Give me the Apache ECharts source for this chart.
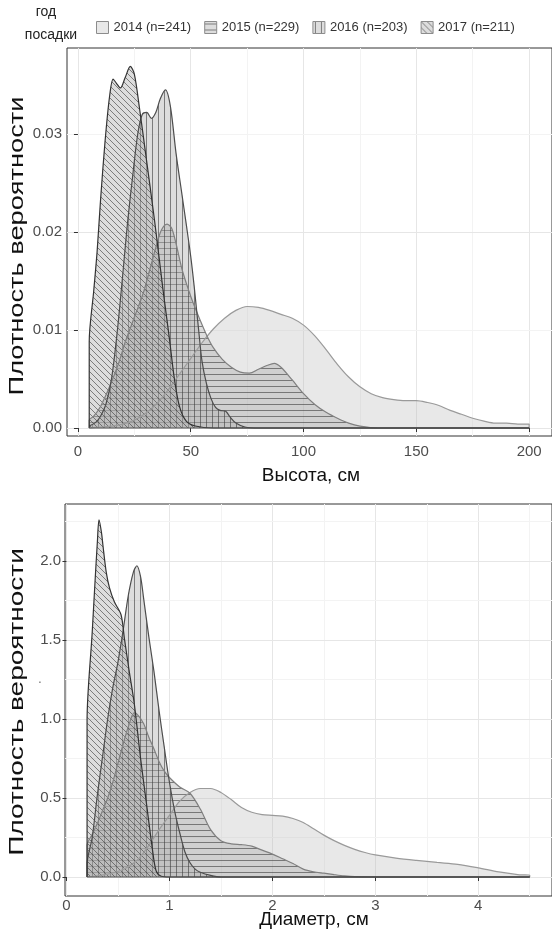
<!DOCTYPE html>
<html>
<head>
<meta charset="utf-8">
<title>Плотность вероятности</title>
<script src="https://cdn.jsdelivr.net/npm/echarts@6/dist/echarts.min.js"></script>
<style>
  html, body { margin: 0; padding: 0; background: #fff; }
  #chart { width: 552px; height: 940px; }
</style>
</head>
<body>
<div id="chart"></div>
<script>
// год посадки
var years = ['2014 (n=241)', '2015 (n=229)', '2016 (n=203)', '2017 (n=211)'];

// Высота, см — плотность по годам
var h2014x = [5, 10, 15, 20, 25, 30, 35, 40, 45, 50, 55, 60, 65, 70, 75, 80, 85, 90, 95, 100, 105, 110, 115, 120, 125, 130, 135, 140, 145, 150, 155, 160, 165, 170, 175, 180, 185, 190, 195, 200, 200];
var h2014y = [0, 0.0001, 0.0002, 0.0004, 0.0008, 0.0015, 0.0025, 0.0039, 0.0055, 0.0071, 0.0087, 0.0101, 0.0112, 0.0120, 0.0124, 0.0123, 0.0120, 0.0116, 0.0112, 0.0105, 0.0094, 0.0080, 0.0065, 0.0052, 0.0042, 0.0035, 0.0031, 0.0029, 0.0028, 0.0028, 0.0026, 0.0023, 0.0018, 0.0014, 0.0010, 0.0007, 0.0005, 0.0005, 0.0004, 0.0004, 0];
var h2015x = [5, 5, 7, 10, 14, 18, 21, 25, 29, 32, 35, 37, 39.5, 41.5, 43.5, 46, 48, 51, 54, 57, 60, 64, 68, 72, 76, 80, 84, 87, 90, 95, 100, 105, 110, 115, 120, 125, 133, 150, 200];
var h2015y = [0, 0.0008, 0.0012, 0.0022, 0.0042, 0.0066, 0.0088, 0.0113, 0.0138, 0.0163, 0.0188, 0.0202, 0.0208, 0.0204, 0.0188, 0.0163, 0.0148, 0.0128, 0.0111, 0.0095, 0.0082, 0.0070, 0.0062, 0.0057, 0.0056, 0.0060, 0.0064, 0.0066, 0.0062, 0.0049, 0.0035, 0.0024, 0.0016, 0.0010, 0.0005, 0.0002, 0, 0, 0];
var h2016x = [5, 8, 10, 12.5, 15, 17.5, 20, 22, 24.5, 26.5, 28.5, 30.5, 32.5, 34.5, 36.5, 38.8, 41, 43.5, 46, 48, 50, 51.5, 53.5, 55, 57, 59, 61, 63, 65.5, 67.5, 70, 74, 80, 90, 200];
var h2016y = [0.0002, 0.0006, 0.0012, 0.0025, 0.0052, 0.0100, 0.0160, 0.0210, 0.0262, 0.0300, 0.0320, 0.0322, 0.0316, 0.0322, 0.0336, 0.0345, 0.0328, 0.0280, 0.0240, 0.0208, 0.0175, 0.0145, 0.0100, 0.0068, 0.0045, 0.0030, 0.0021, 0.0018, 0.0017, 0.0011, 0.0005, 0.0001, 0, 0, 0];
var h2017x = [5, 5, 7, 8.5, 10, 12, 14, 15.6, 17, 18.8, 21, 23.2, 25, 27.3, 30, 34, 37.6, 40.5, 42.7, 45, 48, 52, 60, 200];
var h2017y = [0, 0.0088, 0.0140, 0.0180, 0.0232, 0.0292, 0.0338, 0.0356, 0.0352, 0.0347, 0.0358, 0.0369, 0.0361, 0.0326, 0.0280, 0.0211, 0.0143, 0.0092, 0.0051, 0.0022, 0.0007, 0.0002, 0, 0];

// Диаметр, см — плотность по годам
var d2014x = [0.2, 0.3, 0.4, 0.5, 0.6, 0.7, 0.8, 0.9, 1.0, 1.1, 1.2, 1.3, 1.4, 1.5, 1.6, 1.7, 1.8, 1.9, 2.0, 2.1, 2.2, 2.3, 2.4, 2.5, 2.6, 2.7, 2.8, 2.9, 3.0, 3.2, 3.4, 3.6, 3.8, 4.0, 4.2, 4.4, 4.5, 4.5];
var d2014y = [0.002, 0.008, 0.018, 0.035, 0.065, 0.115, 0.2, 0.3, 0.39, 0.48, 0.535, 0.56, 0.56, 0.535, 0.49, 0.44, 0.41, 0.395, 0.39, 0.385, 0.37, 0.345, 0.305, 0.265, 0.23, 0.2, 0.175, 0.155, 0.14, 0.12, 0.105, 0.092, 0.08, 0.058, 0.032, 0.014, 0.011, 0];
var d2015x = [0.2, 0.2, 0.25, 0.3, 0.35, 0.4, 0.45, 0.5, 0.55, 0.6, 0.66, 0.7, 0.75, 0.8, 0.85, 0.9, 0.95, 1.0, 1.1, 1.2, 1.3, 1.4, 1.5, 1.6, 1.7, 1.8, 1.9, 2.0, 2.1, 2.2, 2.3, 2.4, 2.5, 2.6, 2.7, 2.8, 3.0, 4.5];
var d2015y = [0, 0.2, 0.27, 0.34, 0.42, 0.5, 0.6, 0.72, 0.84, 0.95, 1.04, 1.02, 0.97, 0.885, 0.81, 0.73, 0.67, 0.63, 0.57, 0.53, 0.43, 0.30, 0.23, 0.21, 0.205, 0.195, 0.17, 0.145, 0.115, 0.085, 0.05, 0.033, 0.024, 0.015, 0.007, 0.002, 0, 0];
var d2016x = [0.2, 0.2, 0.25, 0.3, 0.35, 0.4, 0.45, 0.5, 0.55, 0.6, 0.65, 0.684, 0.72, 0.75, 0.8, 0.85, 0.9, 0.95, 1.0, 1.05, 1.1, 1.15, 1.2, 1.25, 1.3, 1.4, 1.5, 4.5];
var d2016y = [0, 0.08, 0.25, 0.52, 0.76, 1.0, 1.2, 1.36, 1.56, 1.78, 1.93, 1.97, 1.9, 1.76, 1.52, 1.3, 1.05, 0.82, 0.6, 0.42, 0.28, 0.16, 0.09, 0.05, 0.03, 0.01, 0, 0];
var d2017x = [0.2, 0.2, 0.25, 0.28, 0.3, 0.316, 0.34, 0.354, 0.386, 0.418, 0.466, 0.53, 0.5625, 0.61, 0.66, 0.72, 0.78, 0.83, 0.87, 0.92, 1.0, 4.5];
var d2017y = [0, 0.99, 1.55, 1.9, 2.12, 2.26, 2.18, 2.1, 1.93, 1.83, 1.74, 1.66, 1.51, 1.30, 1.09, 0.75, 0.45, 0.2, 0.04, 0.005, 0, 0];

// деления осей
var hTicksX = [0, 50, 100, 150, 200];
var hTicksY = [0, 0.01, 0.02, 0.03];
var hMinorX = [25, 75, 125, 175];
var hMinorY = [0.005, 0.015, 0.025, 0.035];
var dTicksX = [0, 1, 2, 3, 4];
var dTicksY = [0, 0.5, 1, 1.5, 2];
var dMinorX = [0.5, 1.5, 2.5, 3.5, 4.5];
var dMinorY = [0.25, 0.75, 1.25, 1.75, 2.25];

var FONT = '"Liberation Sans", Arial, sans-serif';

function pairs(xs, ys) {
  return xs.map(function (x, i) { return [x, ys[i]]; });
}

// штриховка
function hatch(kind) {
  var s = 6;
  var c = document.createElement('canvas');
  c.width = s; c.height = s;
  var g = c.getContext('2d');
  g.fillStyle = 'rgba(175,175,175,0.42)';
  g.fillRect(0, 0, s, s);
  g.strokeStyle = 'rgba(60,60,60,0.6)';
  g.lineWidth = 1;
  g.beginPath();
  if (kind === 'h') { g.moveTo(0, 2.5); g.lineTo(s, 2.5); }
  if (kind === 'v') { g.moveTo(2.5, 0); g.lineTo(2.5, s); }
  if (kind === 'd') {
    for (var k = -1; k <= 1; k++) { g.moveTo(k * s, 0); g.lineTo(k * s + s, s); }
  }
  g.stroke();
  return { image: c, repeat: 'repeat' };
}

var fills = ['rgba(185,185,185,0.32)', hatch('h'), hatch('v'), hatch('d')];
var strokes = ['#9a9a9a', '#808080', '#4d4d4d', '#333333'];

var myChart = echarts.init(document.getElementById('chart'));

function densSeries(i, xs, ys, gi) {
  return {
    name: years[i],
    type: 'line',
    xAxisIndex: gi,
    yAxisIndex: gi,
    data: pairs(xs, ys),
    smooth: 0.3,
    showSymbol: false,
    symbol: 'none',
    z: 2,
    lineStyle: { color: strokes[i], width: 1.2 },
    itemStyle: { color: strokes[i] },
    areaStyle: { color: fills[i], opacity: 1, origin: 0 }
  };
}

// сетка под графиками
function gridLines(gi, majX, minX, majY, minY) {
  var d = [];
  majX.forEach(function (v) { d.push({ xAxis: v, lineStyle: { color: '#e6e6e6' } }); });
  minX.forEach(function (v) { d.push({ xAxis: v, lineStyle: { color: '#f3f3f3' } }); });
  majY.forEach(function (v) { d.push({ yAxis: v, lineStyle: { color: '#e6e6e6' } }); });
  minY.forEach(function (v) { d.push({ yAxis: v, lineStyle: { color: '#f3f3f3' } }); });
  return {
    type: 'line', xAxisIndex: gi, yAxisIndex: gi,
    data: [[majX[0], majY[0]]], symbol: 'none', lineStyle: { opacity: 0 },
    z: 0, silent: true,
    markLine: {
      silent: true, z: 0, symbol: ['none', 'none'], label: { show: false },
      lineStyle: { type: 'solid', width: 1 }, animation: false, data: d
    }
  };
}

// нулевая линия контуров
function baseLine(gi, x0, x1) {
  return {
    type: 'line', xAxisIndex: gi, yAxisIndex: gi, data: [[x0, 0], [x1, 0]],
    symbol: 'none', z: 3, silent: true, lineStyle: { color: '#555', width: 1.2 }
  };
}

function axis(gi, min, max, ticks, dec, margin) {
  return {
    type: 'value', gridIndex: gi, min: min, max: max,
    splitLine: { show: false },
    axisLine: { show: false },
    axisTick: { show: true, length: 4, customValues: ticks, lineStyle: { color: '#333' } },
    axisLabel: {
      customValues: ticks, margin: margin, color: '#4d4d4d', fontSize: 15, fontFamily: FONT,
      formatter: function (v) { return dec ? v.toFixed(dec) : String(v); }
    }
  };
}

function title(text, x, y, size, rot, sx) {
  return {
    type: 'text', x: x, y: y, rotation: rot || 0, scaleX: sx || 1,
    style: { text: text, font: size + 'px ' + FONT, fill: '#111', textAlign: 'center', textVerticalAlign: 'middle' }
  };
}

var option = {
  animation: false,
  backgroundColor: '#fff',
  textStyle: { fontFamily: FONT },
  legend: {
    left: 91, top: 16, itemWidth: 12, itemHeight: 12, itemGap: 13,
    textStyle: { fontSize: 13, color: '#333', fontFamily: FONT },
    data: years.map(function (n, i) {
      return { name: n, icon: 'rect', itemStyle: { color: fills[i], borderColor: '#8c8c8c', borderWidth: 1 } };
    })
  },
  grid: [
    { left: 67, top: 48, width: 488, height: 388, show: true, borderColor: '#333', borderWidth: 1, containLabel: false },
    { left: 65, top: 504, width: 492, height: 392, show: true, borderColor: '#333', borderWidth: 1, containLabel: false }
  ],
  xAxis: [
    axis(0, -4.85, 210.13, hTicksX, 0, 8),
    axis(1, -0.0144, 4.7164, dTicksX, 0, 2)
  ],
  yAxis: [
    axis(0, -0.000816, 0.038776, hTicksY, 2, 5),
    axis(1, -0.1203, 2.3608, dTicksY, 1, 4)
  ],
  graphic: [
    { type: 'text', x: 46, y: 12, style: { text: 'год', font: '14px ' + FONT, fill: '#222', textAlign: 'center', textVerticalAlign: 'middle' } },
    { type: 'text', x: 51, y: 35, style: { text: 'посадки', font: '14px ' + FONT, fill: '#222', textAlign: 'center', textVerticalAlign: 'middle' } },
    title('Высота, см', 311, 476, 19),
    title('Диаметр, см', 314, 920, 19),
    title('Плотность вероятности', 17, 246, 20, Math.PI / 2, 1.36),
    title('Плотность вероятности', 17, 702, 20, Math.PI / 2, 1.4),
    { type: 'text', x: 40, y: 680, style: { text: '.', font: '12px ' + FONT, fill: '#666', textAlign: 'center', textVerticalAlign: 'middle' } }
  ],
  series: [
    gridLines(0, hTicksX, hMinorX, hTicksY, hMinorY),
    densSeries(0, h2014x, h2014y, 0),
    densSeries(1, h2015x, h2015y, 0),
    densSeries(2, h2016x, h2016y, 0),
    densSeries(3, h2017x, h2017y, 0),
    baseLine(0, h2014x[0], h2014x[h2014x.length - 1]),
    gridLines(1, dTicksX, dMinorX, dTicksY, dMinorY),
    densSeries(0, d2014x, d2014y, 1),
    densSeries(1, d2015x, d2015y, 1),
    densSeries(2, d2016x, d2016y, 1),
    densSeries(3, d2017x, d2017y, 1),
    baseLine(1, d2014x[0], d2014x[d2014x.length - 1])
  ]
};

myChart.setOption(option);
window.addEventListener('resize', function () {
  myChart.resize();
});
</script>
</body>
</html>
